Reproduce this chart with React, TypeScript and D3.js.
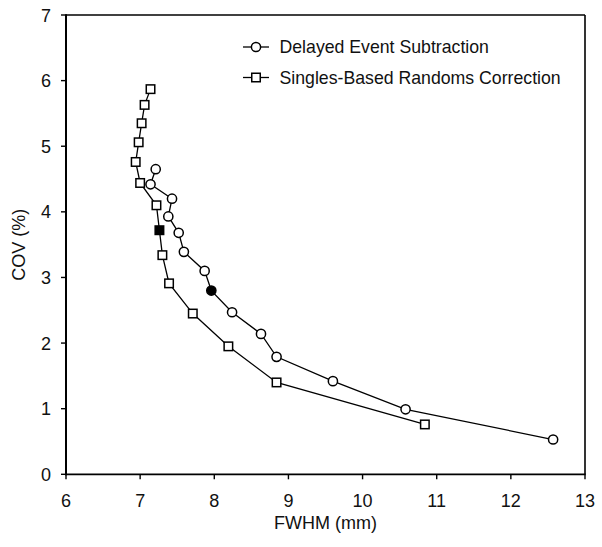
import React from "react";
import * as d3 from "d3";

const delayedX = [7.21, 7.14, 7.43, 7.38, 7.52, 7.59, 7.87, 7.96, 8.24, 8.63, 8.84, 9.60, 10.58, 12.57];
const delayedY = [4.65, 4.42, 4.20, 3.93, 3.68, 3.39, 3.10, 2.80, 2.47, 2.14, 1.79, 1.42, 0.99, 0.53];
const delayedFilled = [false, false, false, false, false, false, false, true, false, false, false, false, false, false];

const singlesX = [7.14, 7.06, 7.02, 6.98, 6.94, 7.00, 7.22, 7.26, 7.30, 7.39, 7.71, 8.19, 8.84, 10.84];
const singlesY = [5.87, 5.63, 5.35, 5.06, 4.76, 4.44, 4.10, 3.72, 3.34, 2.91, 2.45, 1.95, 1.40, 0.76];
const singlesFilled = [false, false, false, false, false, false, false, true, false, false, false, false, false, false];

const xTicks = [6, 7, 8, 9, 10, 11, 12, 13];
const yTicks = [0, 1, 2, 3, 4, 5, 6, 7];
const legendLabels = ["Delayed Event Subtraction", "Singles-Based Randoms Correction"];
const xTitle = "FWHM (mm)";
const yTitle = "COV (%)";

const W = 602;
const H = 547;
const L = 66, R = 585, T = 15, B = 474.3;
const FONT = "'Liberation Sans', Arial, sans-serif";

export default function App() {
  const x = d3.scaleLinear().domain([6, 13]).range([L, R]);
  const y = d3.scaleLinear().domain([0, 7]).range([B, T]);
  const line = d3.line<[number, number]>().x(d => x(d[0])).y(d => y(d[1]));
  const dPts: [number, number][] = delayedX.map((v, i) => [v, delayedY[i]]);
  const sPts: [number, number][] = singlesX.map((v, i) => [v, singlesY[i]]);
  const sq = 8.5;
  const cr = 4.6;

  return (
    <svg width={W} height={H} style={{ position: "absolute", left: 0, top: 0, background: "#fff" }} fontFamily={FONT}>
      <rect x={0} y={0} width={W} height={H} fill="#fff" />
      {/* frame */}
      <line x1={L} x2={R} y1={T} y2={T} stroke="#000" strokeWidth={1.6} />
      <line x1={R} x2={R} y1={T} y2={B} stroke="#000" strokeWidth={1.6} />
      <line x1={L} x2={L} y1={T - 0.8} y2={B + 1} stroke="#000" strokeWidth={2} />
      <line x1={L - 1} x2={R + 0.8} y1={B} y2={B} stroke="#000" strokeWidth={1.8} />
      {/* y ticks */}
      {yTicks.map(t => (
        <g key={"y" + t}>
          <line x1={L - 5} x2={L} y1={y(t)} y2={y(t)} stroke="#000" strokeWidth={1.4} />
          <text x={L - 15} y={y(t) + 6.5} fontSize={18} textAnchor="end" fill="#111">{t}</text>
        </g>
      ))}
      {/* x ticks */}
      {xTicks.map(t => (
        <g key={"x" + t}>
          <line x1={x(t)} x2={x(t)} y1={B} y2={B + 5} stroke="#000" strokeWidth={1.4} />
          <text x={x(t)} y={B + 33} fontSize={18} textAnchor="middle" fill="#111">{t}</text>
        </g>
      ))}
      <text x={(L + R) / 2} y={529} fontSize={18} textAnchor="middle" fill="#111">{xTitle}</text>
      <text transform={`translate(25,${(T + B) / 2}) rotate(-90)`} fontSize={18} textAnchor="middle" fill="#111">{yTitle}</text>

      {/* lines */}
      <path d={line(dPts) || ""} fill="none" stroke="#000" strokeWidth={1.3} />
      <path d={line(sPts) || ""} fill="none" stroke="#000" strokeWidth={1.3} />

      {/* markers */}
      {dPts.map((p, i) => (
        <circle key={"c" + i} cx={x(p[0])} cy={y(p[1])} r={cr} fill={delayedFilled[i] ? "#000" : "#fff"} stroke="#000" strokeWidth={1.5} />
      ))}
      {sPts.map((p, i) => (
        <rect key={"s" + i} x={x(p[0]) - sq / 2} y={y(p[1]) - sq / 2} width={sq} height={sq} fill={singlesFilled[i] ? "#000" : "#fff"} stroke="#000" strokeWidth={1.5} />
      ))}

      {/* legend */}
      <g>
        <line x1={243} x2={269} y1={47} y2={47} stroke="#000" strokeWidth={1.3} />
        <circle cx={256} cy={47} r={cr} fill="#fff" stroke="#000" strokeWidth={1.5} />
        <text x={279.5} y={53.3} fontSize={17.7} fill="#111">{legendLabels[0]}</text>
        <line x1={243} x2={269} y1={77.5} y2={77.5} stroke="#000" strokeWidth={1.3} />
        <rect x={256 - sq / 2} y={77.5 - sq / 2} width={sq} height={sq} fill="#fff" stroke="#000" strokeWidth={1.5} />
        <text x={279.5} y={83.8} fontSize={17.7} fill="#111">{legendLabels[1]}</text>
      </g>
    </svg>
  );
}
